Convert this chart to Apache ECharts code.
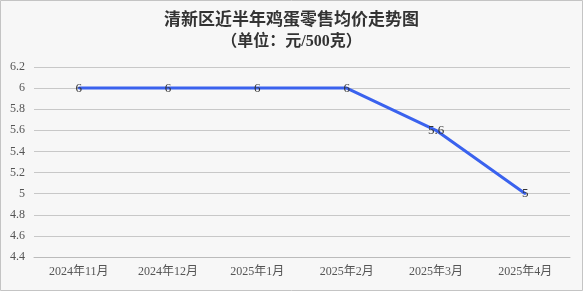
<!DOCTYPE html>
<html><head><meta charset="utf-8">
<script src="https://cdn.jsdelivr.net/npm/echarts@6/dist/echarts.min.js"></script>
<style>html,body{margin:0;padding:0;background:#f7f7f7}#c{width:583px;height:291px}</style>
</head><body><div id="c"></div>
<script>
const categories = ['2024年11月','2024年12月','2025年1月','2025年2月','2025年3月','2025年4月'];
const prices = [6, 6, 6, 6, 5.6, 5];
const titleText = '清新区近半年鸡蛋零售均价走势图';
const subText = '（单位：元/500克）';
const yMin = 4.4, yMax = 6.2, yStep = 0.2;

const font = '"Liberation Serif","Noto Sans CJK SC",serif';
const chart = echarts.init(document.getElementById('c'));
chart.setOption({
  backgroundColor: '#f7f7f7',
  animation: false,
  graphic: [{type:'rect', shape:{x:0.5,y:0.5,width:582,height:290}, style:{fill:'none', stroke:'#c4c4c4', lineWidth:1}, silent:true}],
  title: {
    text: titleText, subtext: subText, left: 'center', top: 7, itemGap: 5,
    textStyle: {fontFamily: font, fontSize: 17, fontWeight: 'bold', color: '#333'},
    subtextStyle: {fontFamily: font, fontSize: 16, fontWeight: 'bold', color: '#333'}
  },
  grid: {left: 34, right: 13, top: 67, bottom: 34},
  xAxis: {
    type: 'category', data: categories,
    axisLine: {lineStyle: {color: '#bbb'}},
    axisTick: {lineStyle: {color: '#bbb'}},
    axisLabel: {fontFamily: font, fontSize: 12, color: '#555', margin: 9}
  },
  yAxis: {
    type: 'value', min: yMin, max: yMax, interval: yStep,
    axisLine: {show: false}, axisTick: {show: false},
    axisLabel: {fontFamily: font, fontSize: 12, color: '#555', margin: 9,
      formatter: v => String(Math.round(v*10)/10)},
    splitLine: {lineStyle: {color: '#c8c8c8'}}
  },
  series: [{
    type: 'line', data: prices, showSymbol: true, showAllSymbol: true, symbol: 'circle', symbolSize: 2,
    lineStyle: {color: '#3a62ee', width: 3},
    itemStyle: {color: '#3a62ee'},
    label: {show: true, position: 'inside', fontFamily: font, fontSize: 13, color: '#333'}
  }]
});
</script></body></html>
